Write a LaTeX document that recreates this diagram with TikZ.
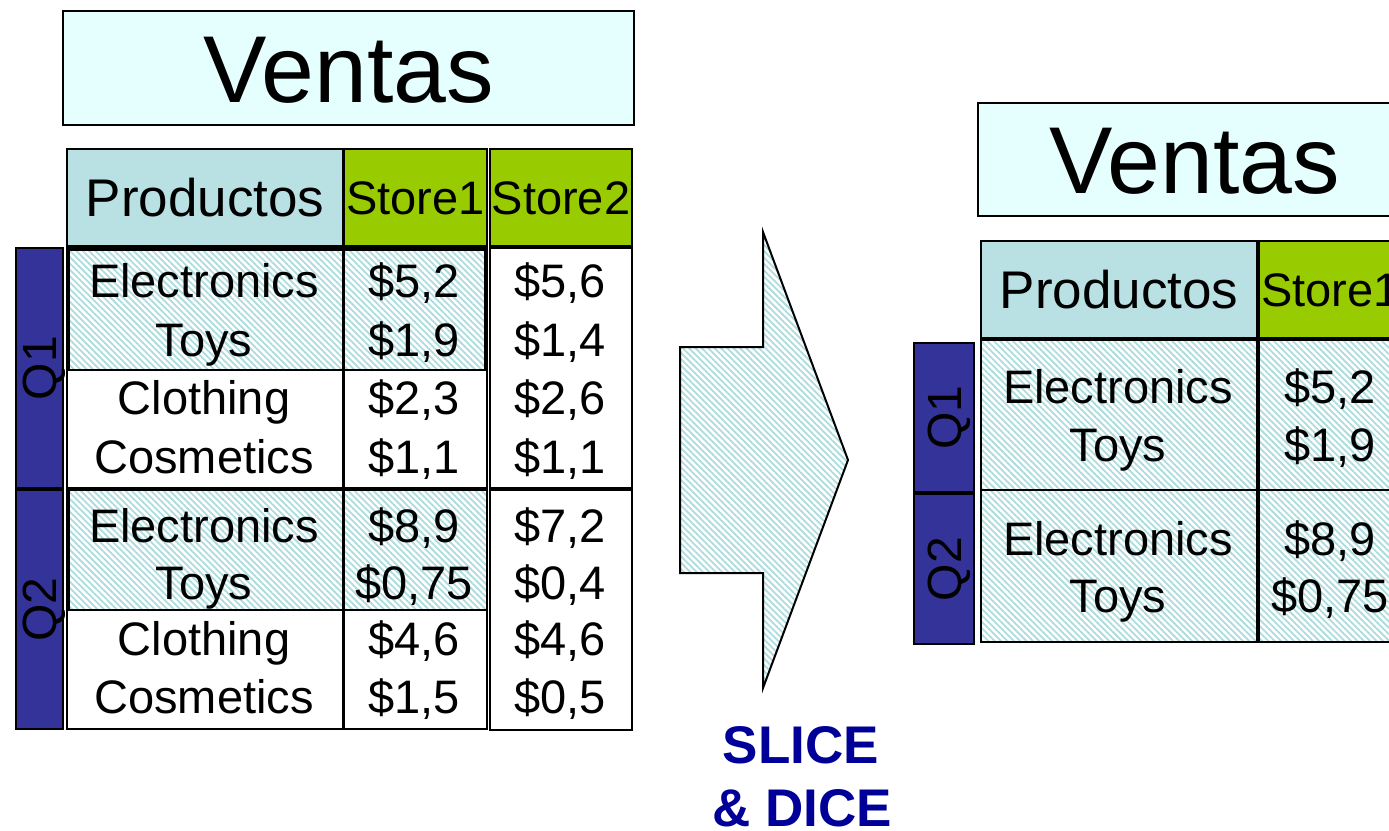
\documentclass[tikz,border=0pt]{standalone}
\usepackage{fontspec}
\setmainfont{Liberation Sans}
\usetikzlibrary{patterns.meta}

\definecolor{titlefill}{HTML}{E5FFFF}
\definecolor{hdrblue}{HTML}{B9E0E3}
\definecolor{storegreen}{HTML}{99CC00}
\definecolor{qblue}{HTML}{333399}
\definecolor{hatchcyan}{HTML}{ACDCDE}
\definecolor{slicetxt}{HTML}{000099}

\begin{document}
\begin{tikzpicture}[x=1pt,y=-1pt]
	\tikzset{box/.style = {draw=black, line width=2pt, inner sep=0pt, anchor=north west},
		titlebox/.style = {box, fill=titlefill, font=\fontsize{95}{95}\selectfont, text height=68pt, text depth=0pt},
		hdrprod/.style = {box, fill=hdrblue, font=\fontsize{53}{53}\selectfont, text height=38pt, text depth=0pt},
		hdrstore/.style = {box, fill=storegreen, font=\fontsize{47}{47}\selectfont, text height=34pt, text depth=0pt},
		qbar/.style = {box, fill=qblue},
		qlabel/.style = {rotate=90, inner sep=0pt, font=\fontsize{48}{48}\selectfont, text height=34.5pt, text depth=0pt},
		hatched/.style = {box, pattern={Lines[angle=-45, distance=4.5pt, line width=1.8pt]}, pattern color=hatchcyan},
		bodytext/.style = {inner sep=0pt, anchor=base, font=\fontsize{47}{47}\selectfont},
		slicetext/.style = {inner sep=0pt, anchor=base, text=slicetxt, font=\bfseries\fontsize{53}{53}\selectfont}}

	\useasboundingbox (0,0) rectangle (1389,830);
	\clip (0,0) rectangle (1389,830);

	% left table
	\node[titlebox, minimum width=571pt, minimum height=114pt] (title_L) at (62,10) {Ventas};
	\node[hdrprod, minimum width=276pt, minimum height=97pt] (hp_L) at (66,148) {Productos};
	\node[hdrstore, minimum width=143pt, minimum height=97pt] (hs1_L) at (343,148) {Store1};
	\node[hdrstore, minimum width=142pt, minimum height=97pt] (hs2_L) at (489,148) {Store2};

	\node[qbar, minimum width=47pt, minimum height=240pt] (q1_L) at (15,247) {};
	\node[qbar, minimum width=47pt, minimum height=239pt] (q2_L) at (15,489) {};
	\node[qlabel] (q1lab_L) at (q1_L.center) {Q1};
	\node[qlabel] (q2lab_L) at (q2_L.center) {Q2};

	\node[hatched, minimum width=416pt, minimum height=120pt] (sel1_L) at (68,249) {};
	\node[hatched, minimum width=418pt, minimum height=120pt] (sel2_L) at (68,489) {};

	\node[box, minimum width=276pt, minimum height=240pt] (cp1_L) at (66,247) {};
	\node[box, minimum width=143pt, minimum height=240pt] (cs11_L) at (343,247) {};
	\node[box, minimum width=142pt, minimum height=240pt] (cs21_L) at (489,247) {};
	\node[box, minimum width=276pt, minimum height=239pt] (cp2_L) at (66,489) {};
	\node[box, minimum width=143pt, minimum height=239pt] (cs12_L) at (343,489) {};
	\node[box, minimum width=142pt, minimum height=240pt] (cs22_L) at (489,489) {};

	\node[bodytext] (p1_L) at (204,297) {Electronics};
	\node[bodytext] (p2_L) at (204,356) {Toys};
	\node[bodytext] (p3_L) at (204,414) {Clothing};
	\node[bodytext] (p4_L) at (204,473) {Cosmetics};
	\node[bodytext] (p5_L) at (204,542) {Electronics};
	\node[bodytext] (p6_L) at (204,599) {Toys};
	\node[bodytext] (p7_L) at (204,655) {Clothing};
	\node[bodytext] (p8_L) at (204,713) {Cosmetics};

	\node[bodytext] (a1_L) at (414,297) {\$5,2};
	\node[bodytext] (a2_L) at (414,356) {\$1,9};
	\node[bodytext] (a3_L) at (414,414) {\$2,3};
	\node[bodytext] (a4_L) at (414,473) {\$1,1};
	\node[bodytext] (a5_L) at (414,542) {\$8,9};
	\node[bodytext] (a6_L) at (414,599) {\$0,75};
	\node[bodytext] (a7_L) at (414,655) {\$4,6};
	\node[bodytext] (a8_L) at (414,713) {\$1,5};

	\node[bodytext] (b1_L) at (560,297) {\$5,6};
	\node[bodytext] (b2_L) at (560,356) {\$1,4};
	\node[bodytext] (b3_L) at (560,414) {\$2,6};
	\node[bodytext] (b4_L) at (560,473) {\$1,1};
	\node[bodytext] (b5_L) at (560,542) {\$7,2};
	\node[bodytext] (b6_L) at (560,599) {\$0,4};
	\node[bodytext] (b7_L) at (560,655) {\$4,6};
	\node[bodytext] (b8_L) at (560,713) {\$0,5};

	% arrow
	\draw[line width=2pt, line join=miter, pattern={Lines[angle=-45, distance=4.5pt, line width=1.8pt]}, pattern color=hatchcyan]
		(680,347) -- (763,347) -- (763,232) -- (848,460) -- (763,688) -- (763,573) -- (680,573) -- cycle;
	\node[slicetext] (slice) at (801,763) {SLICE};
	\node[slicetext] (dice) at (802,826) {\& DICE};

	% right table
	\node[titlebox, minimum width=434pt, minimum height=113pt] (title_R) at (977,102) {Ventas};
	\node[hdrprod, minimum width=276pt, minimum height=97pt] (hp_R) at (980,240) {Productos};
	\node[hdrstore, minimum width=143pt, minimum height=97pt] (hs1_R) at (1258,240) {Store1};

	\node[qbar, minimum width=60pt, minimum height=149pt] (q1_R) at (913,342) {};
	\node[qbar, minimum width=60pt, minimum height=150pt] (q2_R) at (913,493) {};
	\node[qlabel] (q1lab_R) at (q1_R.center) {Q1};
	\node[qlabel] (q2lab_R) at (q2_R.center) {Q2};

	\node[hatched, minimum width=276pt, minimum height=150pt] (c11_R) at (980,339) {};
	\node[hatched, minimum width=143pt, minimum height=150pt] (c12_R) at (1258,339) {};
	\node[hatched, minimum width=276pt, minimum height=152pt] (c21_R) at (980,489) {};
	\node[hatched, minimum width=143pt, minimum height=152pt] (c22_R) at (1258,489) {};

	\node[bodytext] (p1_R) at (1118,403) {Electronics};
	\node[bodytext] (p2_R) at (1118,461) {Toys};
	\node[bodytext] (p3_R) at (1118,555) {Electronics};
	\node[bodytext] (p4_R) at (1118,612) {Toys};
	\node[bodytext] (a1_R) at (1330,403) {\$5,2};
	\node[bodytext] (a2_R) at (1330,461) {\$1,9};
	\node[bodytext] (a3_R) at (1330,555) {\$8,9};
	\node[bodytext] (a4_R) at (1330,612) {\$0,75};

\end{tikzpicture}
\end{document}
